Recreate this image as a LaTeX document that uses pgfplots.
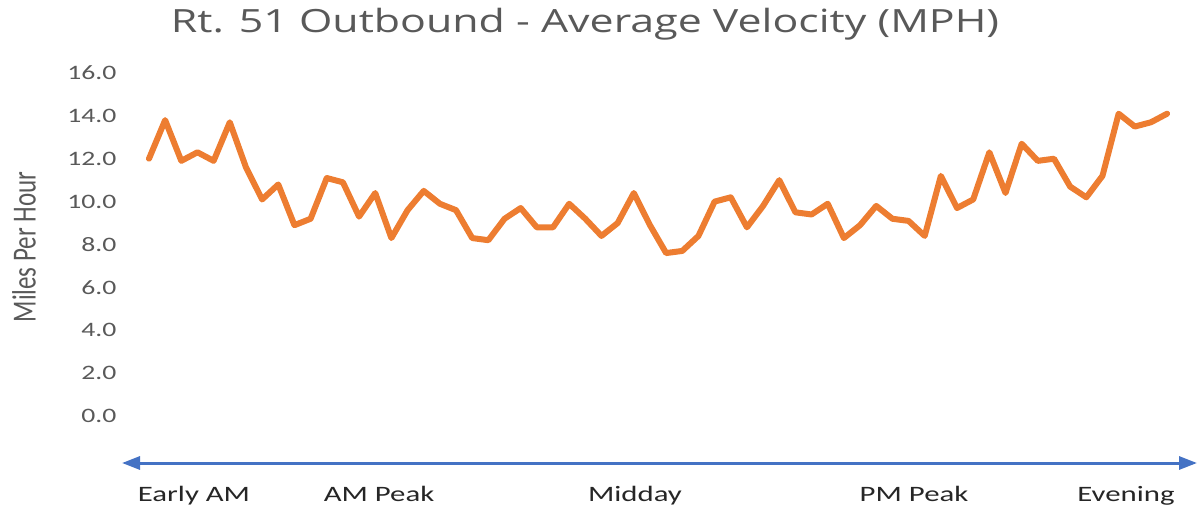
\documentclass[border=0pt]{standalone}
\usepackage{pgfplots}
\pgfplotsset{compat=1.18}
\usepackage{pgfplotstable}
\usepackage{fontspec}
\setmainfont{Carlito}
\newfontfamily\titlefont{Open Sans}
\usetikzlibrary{arrows.meta}
\definecolor{lineorange}{HTML}{ED7D31}
\definecolor{arrowblue}{HTML}{4472C4}
\definecolor{txtgray}{HTML}{595959}
\definecolor{txtdark}{HTML}{262626}

\pgfplotstableread{
x y
0 12.0
1 13.8
2 11.9
3 12.3
4 11.9
5 13.7
6 11.6
7 10.1
8 10.8
9 8.9
10 9.2
11 11.1
12 10.9
13 9.3
14 10.4
15 8.3
16 9.6
17 10.5
18 9.9
19 9.6
20 8.3
21 8.2
22 9.2
23 9.7
24 8.8
25 8.8
26 9.9
27 9.2
28 8.4
29 9.0
30 10.4
31 8.9
32 7.6
33 7.7
34 8.4
35 10.0
36 10.2
37 8.8
38 9.8
39 11.0
40 9.5
41 9.4
42 9.9
43 8.3
44 8.9
45 9.8
46 9.2
47 9.1
48 8.4
49 11.2
50 9.7
51 10.1
52 12.3
53 10.4
54 12.7
55 11.9
56 12.0
57 10.7
58 10.2
59 11.2
60 14.1
61 13.5
62 13.7
63 14.1
}\speeddata

\begin{document}
\begin{tikzpicture}
\path[use as bounding box] (0pt,0pt) rectangle (1197pt,507pt);
\begin{axis}[
  at={(119.9pt,5.2pt)}, anchor=south west,
  scale only axis, width=1076.3pt, height=446pt,
  xmin=-1.8, xmax=64.8, ymin=-4, ymax=16.8,
  axis line style={draw=none},
  tick style={draw=none},
  xtick=\empty,
  ytick={0,2,...,16},
  /pgf/number format/assume math mode=true,
  yticklabel style={font=\fontsize{20.5}{24}\selectfont, text=txtgray, anchor=east},
  yticklabel={\scalebox{1.35}[1]{\pgfmathprintnumber[fixed,fixed zerofill,precision=1]{\tick}}},
  clip=false,
]
\addplot[color=lineorange, line width=6pt, line join=round, line cap=round, mark=none] table[x=x,y=y] {\speeddata};
\end{axis}
% y label
\node[text=txtgray, font=\fontsize{25}{28}\selectfont, rotate=90] at (24pt,260pt) {\scalebox{1}[1.35]{Miles Per Hour}};
% title
\node[text=txtgray, font=\titlefont\fontsize{32}{36}\selectfont, anchor=base] at (585pt,474pt) {\scalebox{1.34}[1]{Rt. 51 Outbound - Average Velocity (MPH)}};
% timeline arrow
\draw[arrowblue, line width=3pt, {Triangle[length=18pt,width=13pt]}-{Triangle[length=18pt,width=13pt]}] (122pt,44pt) -- (1197pt,44pt);
% period labels
\foreach \xx/\lab in {194/Early AM, 379/AM Peak, 635/Midday, 914/PM Peak, 1126/Evening}{
  \node[text=txtdark, font=\fontsize{22}{26}\selectfont, anchor=base] at (\xx pt,6pt) {\scalebox{1.4}[1]{\lab}};
}
\end{tikzpicture}
\end{document}
